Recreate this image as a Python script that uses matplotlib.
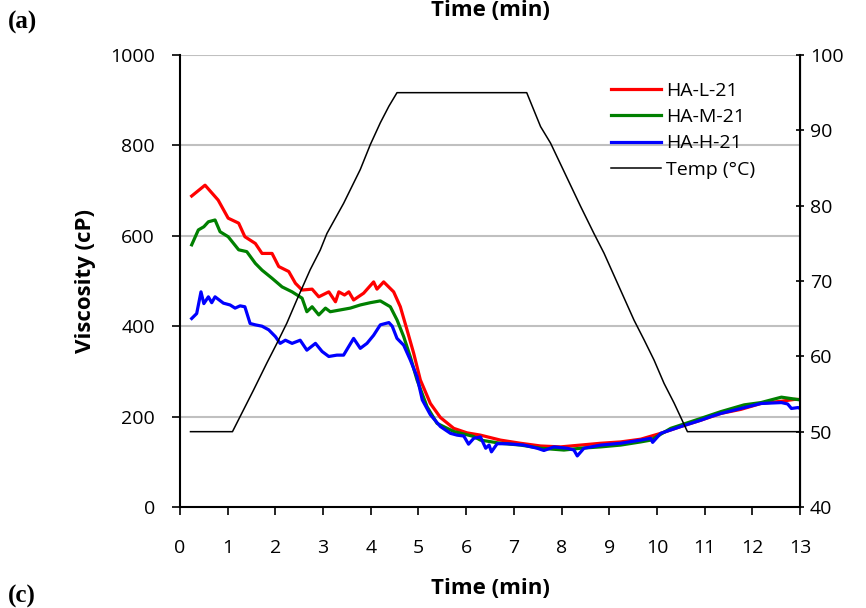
import matplotlib.pyplot as plt

### Viscosity data, time in min, viscosity in cP
t_L = [0.245, 0.525, 0.8, 1.01, 1.23, 1.36, 1.58, 1.72, 1.93, 2.07, 2.28, 2.42, 2.56, 2.77, 2.91,
       3.12, 3.26, 3.33, 3.45, 3.54, 3.64, 3.85, 4.06, 4.13, 4.27, 4.48, 4.62, 4.76, 4.90, 5.04,
       5.25, 5.46, 5.74, 6.02, 6.30, 6.72, 7.14, 7.56, 7.98, 8.40, 8.82, 9.24, 9.66, 10.08, 10.5,
       10.92, 11.34, 11.76, 12.18, 12.61, 12.88, 13.0]
v_L = [688, 712, 679, 639, 628, 598, 583, 561, 561, 532, 521, 495, 480, 482, 465,
       476, 454, 476, 469, 476, 458, 473, 498, 482, 498, 476, 443, 392, 340, 281,
       229, 198, 174, 164, 159, 148, 141, 135, 133, 137, 141, 144, 150, 163, 178,
       192, 207, 216, 229, 234, 238, 238]

t_M = [0.245, 0.385, 0.5, 0.595, 0.735, 0.84, 1.01, 1.23, 1.40, 1.58, 1.72, 1.93, 2.14, 2.35,
       2.56, 2.66, 2.77, 2.91, 3.05, 3.15, 3.36, 3.57, 3.78, 3.99, 4.20, 4.41, 4.55, 4.69, 4.83,
       4.97, 5.18, 5.39, 5.74, 6.16, 6.30, 6.72, 7.14, 7.56, 8.05, 8.40, 8.82, 9.24, 9.66, 9.87,
       10.29, 10.92, 11.34, 11.83, 12.18, 12.61, 13.0]
v_M = [580, 613, 620, 631, 635, 609, 598, 569, 565, 539, 524, 506, 487, 476,
       462, 432, 443, 425, 440, 432, 436, 440, 447, 452, 456, 443, 414, 377, 332,
       281, 222, 185, 167, 156, 148, 141, 137, 130, 126, 130, 133, 137, 144, 148,
       174, 196, 211, 226, 231, 243, 237]

t_H = [0.245, 0.35, 0.44, 0.5, 0.595, 0.665, 0.735, 0.91, 1.05, 1.155, 1.26, 1.36, 1.47, 1.58,
       1.72, 1.86, 2.0, 2.10, 2.21, 2.35, 2.52, 2.66, 2.84, 2.98, 3.12, 3.29, 3.43, 3.64, 3.78,
       3.92, 4.06, 4.20, 4.38, 4.45, 4.55, 4.69, 4.83, 4.97, 5.08, 5.25, 5.46, 5.67, 5.81, 5.95,
       6.05, 6.16, 6.30, 6.41, 6.48, 6.53, 6.65, 6.86, 7.21, 7.49, 7.63, 7.84, 8.12, 8.26, 8.33,
       8.47, 8.82, 9.24, 9.66, 9.87, 9.91, 10.08, 10.5, 10.71, 10.92, 11.13, 11.34, 11.76, 12.18,
       12.61, 12.74, 12.82, 12.96, 13.0]
v_H = [417, 428, 476, 450, 465, 452, 465, 451, 447, 440, 445, 443, 406, 403,
       400, 392, 377, 362, 369, 362, 369, 347, 362, 344, 333, 336, 336, 373, 351,
       362, 380, 403, 408, 400, 373, 358, 325, 288, 237, 204, 178, 163, 159, 157,
       139, 152, 155, 130, 137, 122, 140, 140, 137, 130, 125, 133, 130, 126, 113,
       130, 137, 141, 148, 152, 143, 163, 178, 185, 192, 200, 207, 218, 229,
       231, 228, 218, 220, 218]

### Temperature profile (right axis), deg C
t_T = [0.22, 1.1, 1.26, 1.54, 1.82, 2.03, 2.24, 2.45, 2.73, 2.94, 3.08, 3.43, 3.78, 3.99, 4.20,
       4.38, 4.55, 7.27, 7.56, 7.77, 8.40, 8.68, 8.89, 9.52, 9.73, 9.94, 10.15, 10.36, 10.64, 13.0]
T_C = [50, 50, 52, 55.5, 59.1, 61.7, 64.4, 67.5, 71.5, 74.1, 76.3, 80.3, 84.8, 88.1, 91.0,
       93.2, 95, 95, 90.5, 88.3, 79.9, 76.3, 73.7, 64.8, 62.2, 59.5, 56.4, 53.8, 50, 50]

x_ticks = list(range(0, 14))
y_ticks = [0, 200, 400, 600, 800, 1000]
t_ticks = [40, 50, 60, 70, 80, 90, 100]

plt.rcParams['font.family'] = ['Open Sans', 'DejaVu Sans']

fig = plt.figure(figsize=(8.66, 6.08), dpi=100)
ax = fig.add_axes([180 / 866, 1 - 507 / 608, 620 / 866, 452 / 608])

### Gridlines first so the data sits above them
for yv in y_ticks[1:]:
    ax.axhline(yv, color='#c0c0c0', lw=1.5, zorder=1)

l1, = ax.plot(t_L, v_L, color='#ff0000', lw=2.3, label='HA-L-21', zorder=3)
l2, = ax.plot(t_M, v_M, color='#008000', lw=2.3, label='HA-M-21', zorder=3)
l3, = ax.plot(t_H, v_H, color='#0000ff', lw=2.3, label='HA-H-21', zorder=3)

ax.set_xlim(0, 13)
ax.set_ylim(0, 1000)
ax.set_xticks(x_ticks)
ax.set_yticks(y_ticks)
ax.tick_params(axis='both', labelsize=14, width=1.2, length=6, color='black')
ax.tick_params(axis='x', pad=17)
ax.tick_params(axis='y', pad=12)
ax.spines['top'].set_visible(False)
ax.spines['left'].set_linewidth(1.5)
ax.spines['bottom'].set_linewidth(1.5)
ax.set_ylabel('Viscosity (cP)', fontsize=16, fontweight='bold', labelpad=10)

### Temperature on the secondary axis
ax2 = ax.twinx()
l4, = ax2.plot(t_T, T_C, color='black', lw=1.1, label='Temp (°C)', zorder=4)
ax2.set_ylim(40, 100)
ax2.set_yticks(t_ticks)
ax2.tick_params(axis='y', labelsize=14, width=1.2, length=6, direction='inout', pad=4)
ax2.spines['top'].set_visible(False)
ax2.spines['left'].set_visible(False)
ax2.spines['bottom'].set_visible(False)
ax2.spines['right'].set_linewidth(1.5)

ax2.legend(handles=[l1, l2, l3, l4], loc='upper left', bbox_to_anchor=(0.695, 0.94),
           frameon=False, fontsize=14, handlelength=2.6, handletextpad=0.25,
           labelspacing=0.42, borderpad=0, borderaxespad=0)

### Bottom axis title, plus the edges of the neighbouring panels
fig.text(490 / 866, 1 - 588 / 608, 'Time (min)', fontsize=16, fontweight='bold',
         ha='center', va='center')
fig.text(490 / 866, 1.0, 'Time (min)', fontsize=16, fontweight='bold',
         ha='center', va='top')
fig.text(8 / 866, 1 - 22 / 608, '(a)', fontsize=18, fontweight='bold',
         family='Liberation Serif', ha='left', va='center')
fig.text(8 / 866, 0.0, '(c)', fontsize=18, fontweight='bold',
         family='Liberation Serif', ha='left', va='bottom')

fig.savefig('out.png', dpi=100)
